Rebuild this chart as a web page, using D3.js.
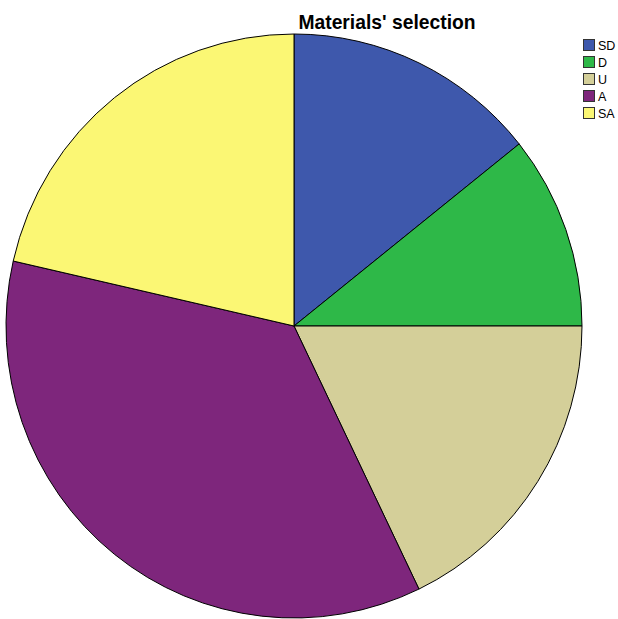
<!DOCTYPE html>
<meta charset="utf-8">
<style>
    body { margin: 0; background: #fff; }
    text { font-family: "Liberation Sans", Arial, sans-serif; }
</style>
<svg width="618" height="619"></svg>

<script src="https://d3js.org/d3.v7.min.js"></script>
<script>
    var categories = ["SD", "D", "U", "A", "SA"],
        counts = [4, 3, 5, 10, 6],
        colors = ["#3e58ac", "#2eb848", "#d4cf99", "#7e267c", "#fbf774"],
        title = "Materials' selection";

    var dataset = categories.map(function (c, i) {
        return {name: c, num: counts[i], color: colors[i]};
    });

    var svg = d3.select("svg"),
        CX = 294,
        CY = 326,
        RX = 288,
        RY = 292,
        pie = d3.pie()
            .sort(null)
            .value(function (d) { return d.num; }),
        arc = d3.arc()
            .innerRadius(0)
            .outerRadius(RX);

    svg.append("g")
        .attr("transform", "translate(" + CX + "," + CY + ") scale(1," + (RY / RX) + ")")
        .selectAll("path")
        .data(pie(dataset))
        .enter()
        .append("path")
        .attr("d", arc)
        .attr("fill", function (d) { return d.data.color; })
        .attr("stroke", "#000")
        .attr("stroke-width", 1)
        .attr("vector-effect", "non-scaling-stroke");

    svg.append("text")
        .attr("x", 387)
        .attr("y", 28.5)
        .attr("text-anchor", "middle")
        .attr("font-size", 19.3)
        .attr("font-weight", "bold")
        .attr("fill", "#000")
        .text(title);

    var legend = svg.append("g")
        .attr("transform", "translate(583,39)")
        .selectAll("g")
        .data(dataset)
        .enter()
        .append("g")
        .attr("transform", function (d, i) { return "translate(0," + i * 17 + ")"; });

    legend.append("rect")
        .attr("x", 0.5)
        .attr("y", 0.5)
        .attr("width", 11)
        .attr("height", 11)
        .attr("fill", function (d) { return d.color; })
        .attr("stroke", "#333");

    legend.append("text")
        .attr("x", 15)
        .attr("y", 11)
        .attr("font-size", 12.5)
        .attr("fill", "#000")
        .text(function (d) { return d.name; });
</script>
